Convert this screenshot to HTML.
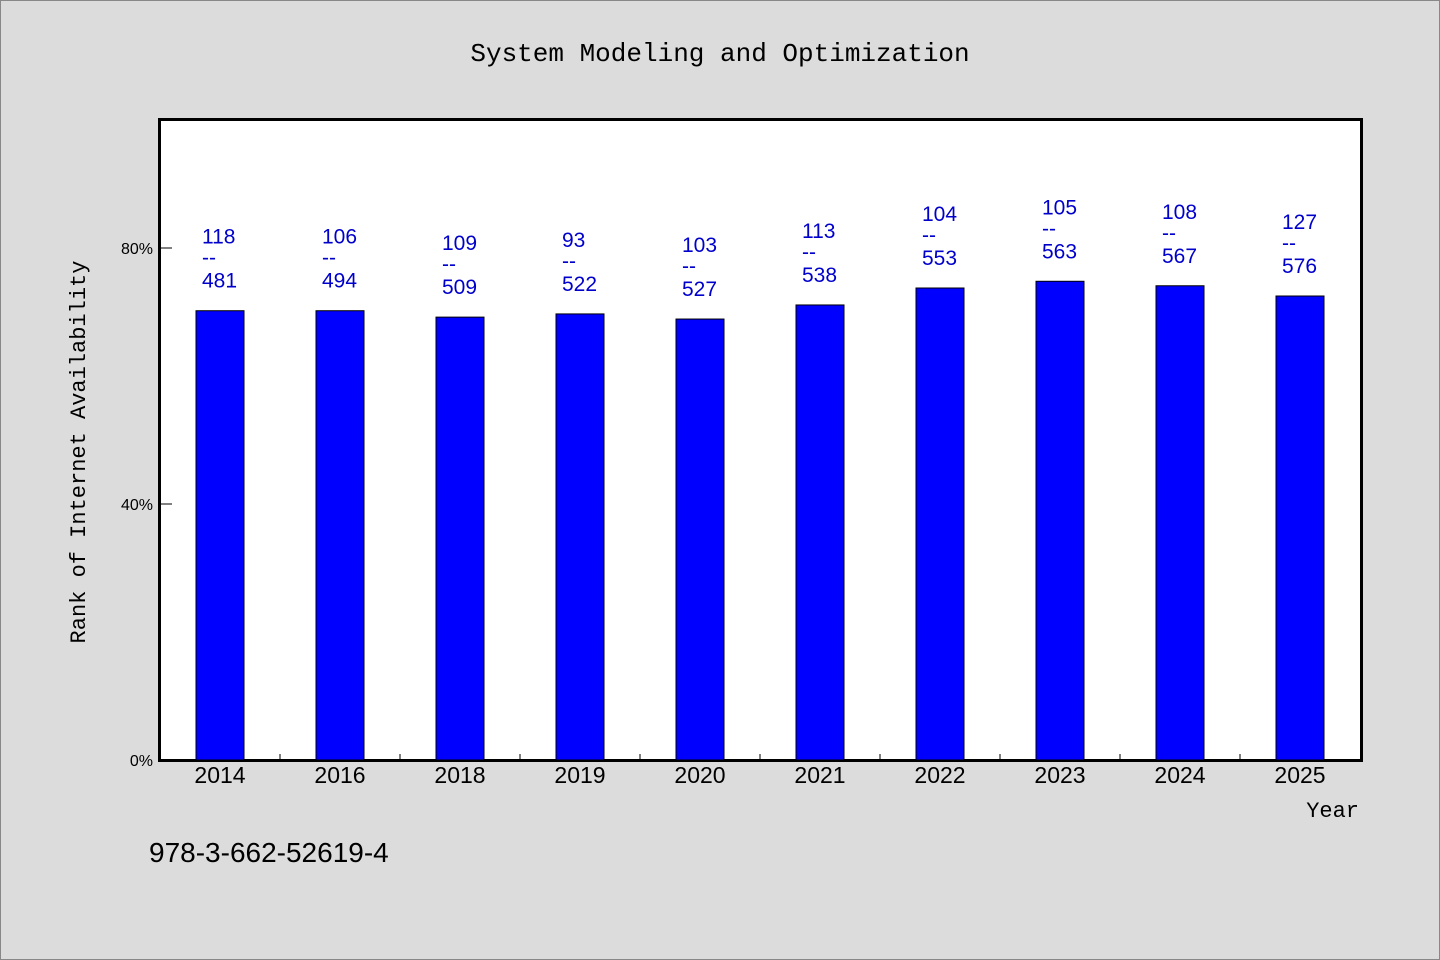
<!DOCTYPE html>
<html><head><meta charset="utf-8"><style>
body{margin:0;background:#dcdcdc;}
svg{display:block;font-family:"Liberation Sans","WenQuanYi Zen Hei",sans-serif;}
</style></head><body>
<svg id="c" width="1440" height="960">
<rect x="0.5" y="0.5" width="1439" height="959" fill="#dcdcdc" stroke="#888"/>
<text x="720" y="61" text-anchor="middle" font-size="26" font-family="Liberation Mono, monospace">System Modeling and Optimization</text>
<rect x="159.5" y="119.5" width="1202" height="641" fill="#fff" stroke="#000" stroke-width="3"/>
<text transform="translate(85,452) rotate(-90)" text-anchor="middle" font-size="22" font-family="Liberation Mono, monospace">Rank of Internet Availability</text>
<text x="1359" y="817" text-anchor="end" font-size="22" font-family="Liberation Mono, monospace">Year</text>
<text x="149" y="862" font-size="28">978-3-662-52619-4</text>
<g id="g"></g>
</svg>
<script>
const categories=["2014","2016","2018","2019","2020","2021","2022","2023","2024","2025"];
const values=[70.2,70.2,69.2,69.7,68.9,71.1,73.75,74.8,74.1,72.5];
const topLabels=["118","106","109","93","103","113","104","105","108","127"];
const bottomLabels=["481","494","509","522","527","538","553","563","567","576"];
const yTicks=[0,40,80];
const NS="http://www.w3.org/2000/svg";
const g=document.getElementById('g');
const x0=160,bw=120,y0=760,ppu=6.4;
const xs=i=>x0+bw*i+bw/2;
const ys=v=>y0-v*ppu;
function mk(t,a,txt){const e=document.createElementNS(NS,t);for(const k in a)e.setAttribute(k,a[k]);if(txt!==undefined)e.textContent=txt;g.appendChild(e);return e;}
yTicks.forEach(v=>{
 const l=mk('line',{x1:160,x2:172,y1:ys(v),y2:ys(v),stroke:'#000'});
 
 
 const t=mk('text',{x:153,y:ys(v)+6,'text-anchor':'end','font-size':16},v+'%');
 
 
});
categories.forEach((c,i)=>{
 if(i>0){const tk=mk('line',{x1:x0+bw*i,x2:x0+bw*i,y1:760,y2:754,stroke:'#000'});
 
 }
 const cx=xs(i),top=ys(values[i]);
 const b=mk('rect',{x:cx-24,y:top,width:48,height:y0-top,fill:'#0000ff',stroke:'#000','stroke-width':1});
 
 
 const lx=cx-18;
 const t1=mk('text',{x:lx,y:top-67,'font-size':21,fill:'#0000cc'},topLabels[i]);
 
 
 const t2=mk('text',{x:lx,y:top-46,'font-size':21,fill:'#0000cc'},'--');
 
 
 const t3=mk('text',{x:lx,y:top-23,'font-size':21,fill:'#0000cc'},bottomLabels[i]);
 
 
 const xl=mk('text',{x:cx,y:783,'text-anchor':'middle','font-size':23},c);
 
 
});
</script>
</body></html>
